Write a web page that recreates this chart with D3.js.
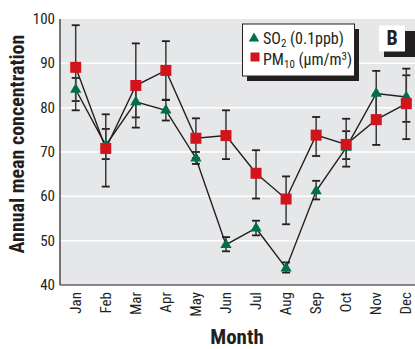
<!DOCTYPE html>
<html>
<head>
<meta charset="utf-8">
<script src="https://cdn.jsdelivr.net/npm/d3@7"></script>
<style>
  body { margin: 0; background: #fff; }
  svg { display: block; }
  text { font-family: "Liberation Sans Narrow", "Roboto Condensed", "Liberation Sans", sans-serif; fill: #231f20; }
</style>
</head>
<body>
<script>
// chart data
var months = ["Jan","Feb","Mar","Apr","May","Jun","Jul","Aug","Sep","Oct","Nov","Dec"];
var so2 = [84.1, 71.5, 81.3, 79.4, 68.6, 49.1, 52.8, 43.8, 61.2, 71.0, 83.2, 82.4];
var so2Lo = [81.5, 68.4, 77.8, 77.1, 67.3, 47.6, 51.2, 42.8, 59.3, 68.4, 78.2, 76.8];
var so2Hi = [86.7, 75.2, 84.8, 81.7, 70.0, 50.8, 54.5, 45.1, 63.5, 74.7, 88.3, 87.3];
var pm10 = [89.1, 70.8, 85.0, 88.4, 73.1, 73.7, 65.2, 59.4, 73.8, 71.7, 77.3, 80.9];
var pm10Lo = [79.4, 62.2, 75.5, 81.8, 68.6, 68.4, 59.5, 53.7, 69.1, 66.7, 71.6, 72.9];
var pm10Hi = [98.6, 78.5, 94.5, 95.0, 77.6, 79.4, 70.4, 64.5, 77.9, 77.5, 83.0, 88.8];
var yTicks = [40, 50, 60, 70, 80, 90, 100];

var width = 415, height = 349;
var plotLeft = 60, plotRight = 421, plotTop = 19, plotBottom = 285;

var svg = d3.select("body").append("svg")
    .attr("width", width)
    .attr("height", height);

var x = d3.scalePoint().domain(months).range([75.7, 406.3]);
var y = d3.scaleLinear().domain([40, 100]).range([plotBottom, plotTop]);

//plot background
svg.append("rect")
    .attr("x", plotLeft).attr("y", plotTop)
    .attr("width", plotRight - plotLeft).attr("height", plotBottom - plotTop)
    .attr("fill", "#e6e7e8");

//white gridlines
svg.selectAll(".grid")
    .data(yTicks.slice(1, -1))
    .enter().append("line")
    .attr("x1", plotLeft).attr("x2", plotRight)
    .attr("y1", function(d){ return y(d); })
    .attr("y2", function(d){ return y(d); })
    .attr("stroke", "#fff").attr("stroke-width", 1.5);

//axes lines
svg.append("line").attr("x1", plotLeft).attr("x2", plotLeft).attr("y1", plotTop).attr("y2", plotBottom)
    .attr("stroke", "#231f20").attr("stroke-width", 1.2);
svg.append("line").attr("x1", plotLeft).attr("x2", plotRight).attr("y1", plotBottom).attr("y2", plotBottom)
    .attr("stroke", "#231f20").attr("stroke-width", 1.2);

//y tick labels
svg.selectAll(".ytick")
    .data(yTicks)
    .enter().append("text")
    .attr("x", 55)
    .attr("y", function(d){ return y(d) + 5; })
    .attr("text-anchor", "end")
    .style("font-size", "15px")
    .text(function(d){ return d; });

//month labels
svg.selectAll(".xtick")
    .data(months)
    .enter().append("text")
    .attr("transform", function(d){ return "translate(" + (x(d) + 5) + ",292) rotate(-90)"; })
    .attr("text-anchor", "end")
    .style("font-size", "15px")
    .text(function(d){ return d; });

//axis titles
svg.append("text")
    .attr("transform", "translate(24,144) rotate(-90)")
    .attr("text-anchor", "middle")
    .style("font-size", "20px").style("font-weight", "bold")
    .text("Annual mean concentration");
svg.append("text")
    .attr("x", 237).attr("y", 344)
    .attr("text-anchor", "middle")
    .style("font-size", "21px").style("font-weight", "bold")
    .text("Month");

var g = svg.append("g");

//connecting lines
var line = d3.line()
    .x(function(d, i){ return x(months[i]); })
    .y(function(d){ return y(d); });
g.append("path").datum(so2).attr("d", line)
    .attr("fill", "none").attr("stroke", "#231f20").attr("stroke-width", 1.4);
g.append("path").datum(pm10).attr("d", line)
    .attr("fill", "none").attr("stroke", "#231f20").attr("stroke-width", 1.4);

//error bars
function errorBars(lo, hi){
    months.forEach(function(m, i){
        var cx = x(m);
        g.append("line").attr("x1", cx).attr("x2", cx)
            .attr("y1", y(lo[i])).attr("y2", y(hi[i]))
            .attr("stroke", "#3a3a3a").attr("stroke-width", 1.5);
        [lo[i], hi[i]].forEach(function(v){
            g.append("line").attr("x1", cx - 4).attr("x2", cx + 4)
                .attr("y1", y(v)).attr("y2", y(v))
                .attr("stroke", "#231f20").attr("stroke-width", 1.8);
        });
    });
}
errorBars(so2Lo, so2Hi);
errorBars(pm10Lo, pm10Hi);

//markers
var tri = d3.symbol().type(d3.symbolTriangle).size(55);
g.selectAll(".so2")
    .data(so2)
    .enter().append("path")
    .attr("d", tri)
    .attr("transform", function(d, i){ return "translate(" + x(months[i]) + "," + y(d) + ")"; })
    .attr("fill", "#00704a");
g.selectAll(".pm")
    .data(pm10)
    .enter().append("rect")
    .attr("x", function(d, i){ return x(months[i]) - 5.5; })
    .attr("y", function(d){ return y(d) - 5.5; })
    .attr("width", 11).attr("height", 11)
    .attr("fill", "#d2141c");

//legend box with shadow
svg.append("rect").attr("x", 247).attr("y", 29).attr("width", 112).attr("height", 52).attr("fill", "#231f20");
svg.append("rect").attr("x", 242.5).attr("y", 24).attr("width", 112).attr("height", 52)
    .attr("fill", "#fff").attr("stroke", "#231f20").attr("stroke-width", 1);
svg.append("path").attr("d", d3.symbol().type(d3.symbolTriangle).size(48))
    .attr("transform", "translate(254,38.5)").attr("fill", "#00704a");
svg.append("rect").attr("x", 250.5).attr("y", 52.5).attr("width", 9).attr("height", 9).attr("fill", "#d2141c");

var t1 = svg.append("text").attr("x", 263).attr("y", 44).style("font-size", "16px");
t1.append("tspan").text("SO");
t1.append("tspan").attr("dy", 3).style("font-size", "11px").text("2");
t1.append("tspan").attr("dy", -3).text(" (0.1ppb)");

var t2 = svg.append("text").attr("x", 263).attr("y", 65).style("font-size", "16px");
t2.append("tspan").text("PM");
t2.append("tspan").attr("dy", 3).style("font-size", "11px").text("10");
t2.append("tspan").attr("dy", -3).text(" (\u03bcm/m");
t2.append("tspan").attr("dy", -5).style("font-size", "11px").text("3");
t2.append("tspan").attr("dy", 5).text(")");

//panel label B
svg.append("rect").attr("x", 384).attr("y", 31).attr("width", 31).attr("height", 26).attr("fill", "#231f20");
svg.append("rect").attr("x", 379).attr("y", 25.5).attr("width", 26).attr("height", 26).attr("fill", "#fff");
svg.append("text").attr("x", 392).attr("y", 45)
    .attr("text-anchor", "middle")
    .style("font-size", "20px").style("font-weight", "bold")
    .text("B");
</script>
</body>
</html>
